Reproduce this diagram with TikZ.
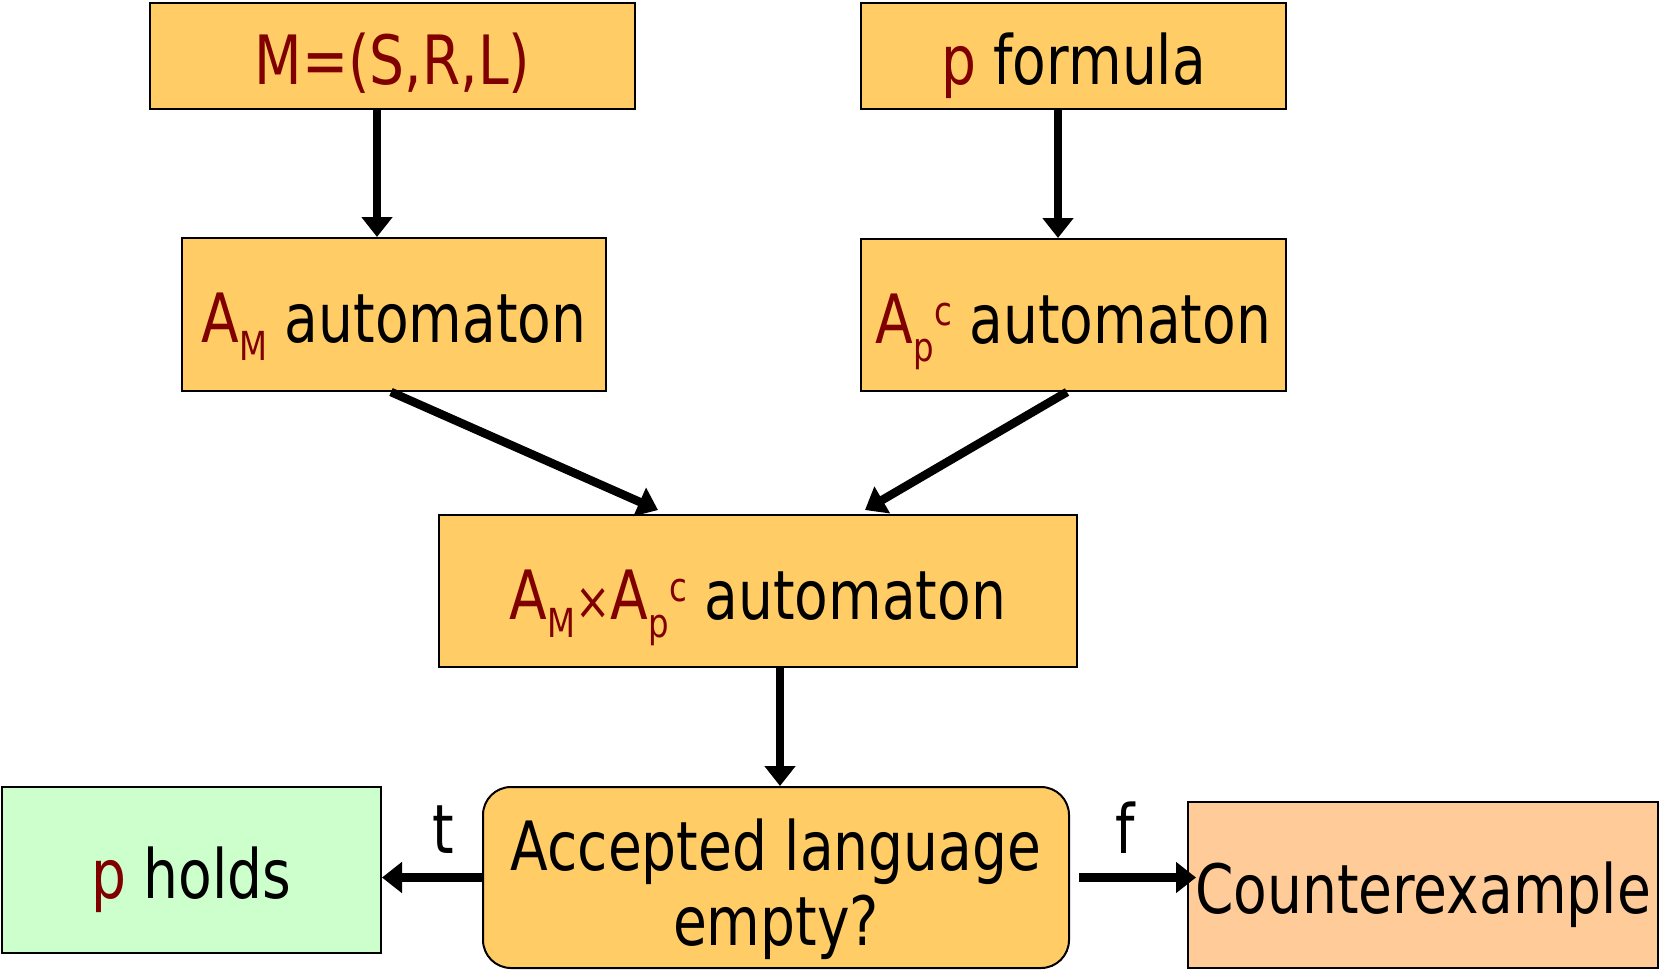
\documentclass[tikz,border=0pt]{standalone}
\usepackage{fontspec}
\setmainfont{DejaVu Sans}[FakeStretch=0.81]
\usetikzlibrary{arrows.meta,calc}
\definecolor{boxor}{HTML}{FFCC66}
\definecolor{boxgr}{HTML}{CCFFCC}
\definecolor{boxpe}{HTML}{FFCC99}
\definecolor{dred}{HTML}{800000}
\newcommand\lsub[1]{\raisebox{-18pt}{\fontsize{40}{48}\selectfont #1}}
\newcommand\lsup[1]{\raisebox{18pt}{\fontsize{40}{48}\selectfont #1}}
\newcommand\ltimes{{\fontsize{52}{60}\selectfont ×}}
\begin{document}
\begin{tikzpicture}[x=1pt,y=-1pt,
  box/.style={draw=black, line width=2pt, fill=boxor, inner sep=0pt,
    font=\fontsize{68}{80}\selectfont, text height=56pt, text depth=0pt},
  conn/.style={line width=8.5pt, -{Triangle[length=20pt,width=30pt]}},
  lbl/.style={font=\fontsize{68}{80}\selectfont, inner sep=0pt}]
\useasboundingbox (0,0) rectangle (1659,970);
\node[box, minimum width=485pt, minimum height=106pt] (M) at (392.5,56) {\color{dred}M=(S,R,L)};
\node[box, minimum width=425pt, minimum height=106pt] (PF) at (1073.5,56) {{\color{dred}p} formula};
\node[box, minimum width=424pt, minimum height=153pt] (AM) at (394,314.5) {{\color{dred}A\lsub{M}} automaton};
\node[box, minimum width=425pt, minimum height=152pt] (AP) at (1073.5,315) {{\color{dred}A\lsub{p}\lsup{c}} automaton};
\node[box, minimum width=638pt, minimum height=152pt] (PR) at (758,591) {{\color{dred}A\lsub{M}\ltimes A\lsub{p}\lsup{c}} automaton};
\node[box, minimum width=586pt, minimum height=181pt, rounded corners=28pt, align=center, text height=, text depth=] (AC) at (776,877.5) {\rule{0pt}{76pt}Accepted language\\[-5pt]empty?\rule[-16pt]{0pt}{16pt}};
\node[box, fill=boxgr, minimum width=379pt, minimum height=166pt] (PH) at (191.5,870) {{\color{dred}p} holds};
\node[box, fill=boxpe, minimum width=470pt, minimum height=166pt] (CE) at (1423,885) {Counterexample};
\draw[conn] ([xshift=-15.5pt]M.south) -- ([xshift=-15.5pt]M.south |- AM.north);
\draw[conn] ([xshift=-15.5pt]PF.south) -- ([xshift=-15.5pt]PF.south |- AP.north);
\draw[conn] ([xshift=-3pt]AM.south) -- ([xshift=-100pt,yshift=4pt]PR.north);
\draw[conn] ([xshift=-6.5pt]AP.south) -- ([xshift=107pt,yshift=4pt]PR.north);
\draw[conn] ([xshift=22pt]PR.south) -- ([xshift=22pt]PR.south |- AC.north);
\draw[conn] (AC.west) -- (AC.west -| PH.east);
\draw[conn] ([xshift=9pt]AC.east) -- ([xshift=9pt]AC.east -| CE.west);
\node[lbl, anchor=base] (T) at (443,853) {t};
\node[lbl, anchor=base] (F) at (1125,853) {f};
\end{tikzpicture}
\end{document}
